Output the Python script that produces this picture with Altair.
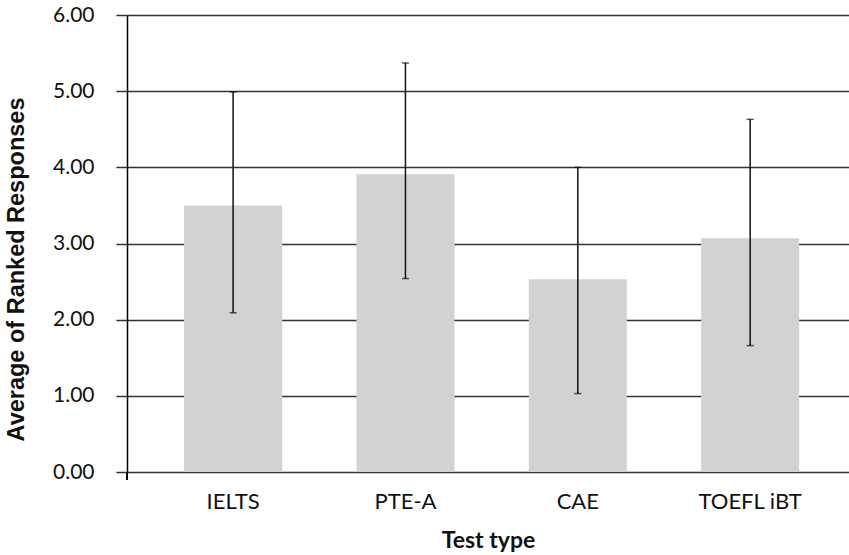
import altair as alt
import pandas as pd

tests = ["IELTS", "PTE-A", "CAE", "TOEFL iBT"]
means = [3.50, 3.91, 2.53, 3.07]
err_low = [2.09, 2.54, 1.03, 1.66]
err_high = [4.99, 5.37, 4.00, 4.63]
y_ticks = [0, 1, 2, 3, 4, 5, 6]

df = pd.DataFrame({"test": tests, "mean": means, "lo": err_low, "hi": err_high})

W, H = 722, 457
LABEL_FONT = "Lato"

x = alt.X(
    "test:N",
    sort=tests,
    scale=alt.Scale(paddingInner=0.431, paddingOuter=0.31, align=0.534),
    axis=alt.Axis(
        title="Test type",
        domain=False,
        ticks=False,
        tickSize=0,
        labelAngle=0,
        labelFont=LABEL_FONT,
        labelFontSize=22,
        labelColor="#111111",
        labelPadding=36,
        labelBaseline="alphabetic",
        titleFont=LABEL_FONT,
        titleFontSize=23,
        titleFontWeight="bold",
        titleColor="#111111",
        titlePadding=17,
    ),
)

y_scale = alt.Scale(domain=[0, 6], nice=False)
y_axis = alt.Axis(
    title="Average of Ranked Responses",
    values=y_ticks,
    format=".2f",
    grid=True,
    gridColor="#333333",
    gridWidth=1.5,
    domain=True,
    domainColor="#000000",
    domainWidth=1.5,
    ticks=True,
    tickSize=11,
    tickColor="#333333",
    tickWidth=1.5,
    labelFont=LABEL_FONT,
    labelFontSize=21,
    labelColor="#111111",
    labelPadding=22,
    titleFont="Liberation Sans",
    titleFontSize=23.5,
    titleFontWeight="bold",
    titleColor="#111111",
    titleBaseline="middle",
    titleX=-111,
    titleY=254,
)

bars = alt.Chart(df).mark_bar(color="#d1d2d4").encode(
    x=x,
    y=alt.Y("mean:Q", scale=y_scale, axis=y_axis),
)

rules = alt.Chart(df).mark_rule(color="#111111", strokeWidth=1.5).encode(
    x=alt.X("test:N", sort=tests),
    y="lo:Q",
    y2="hi:Q",
)

cap_lo = alt.Chart(df).mark_tick(color="#111111", size=7, thickness=1.5).encode(
    x=alt.X("test:N", sort=tests),
    y="lo:Q",
)
cap_hi = alt.Chart(df).mark_tick(color="#111111", size=7, thickness=1.5).encode(
    x=alt.X("test:N", sort=tests),
    y="hi:Q",
)

stub = alt.Chart(df).mark_rule(color="#000000", strokeWidth=1.5).encode(
    x=alt.value(0),
    y=alt.value(H),
    y2=alt.value(H + 8),
)

chart = (
    alt.layer(bars, rules, cap_lo, cap_hi, stub)
    .properties(
        width=W,
        height=H,
        autosize=alt.AutoSizeParams(type="none"),
        padding={"left": 127, "top": 15, "right": 0, "bottom": 83},
    )
    .configure_view(stroke=None)
    .configure(background="#ffffff")
)

chart.save("out.html", embed_options={"renderer": "svg", "actions": False})
